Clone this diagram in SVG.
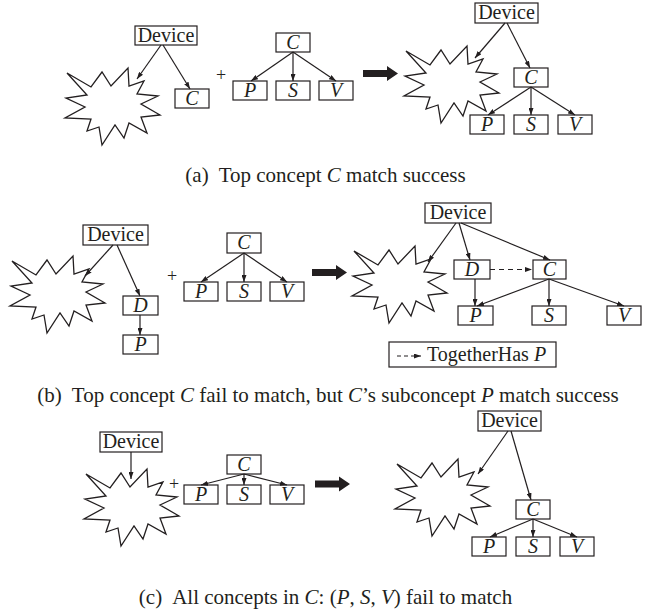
<svg xmlns="http://www.w3.org/2000/svg" width="651" height="616" viewBox="0 0 651 616">
<style>
.b{fill:#fff;stroke:#231f20;stroke-width:1.2}
.t{font-family:"Liberation Serif","DejaVu Serif",serif;font-size:20px;fill:#231f20;text-anchor:middle}
.i{font-style:italic}
.cap{font-size:21px}
.l{stroke:#231f20;stroke-width:1.2;fill:none;marker-end:url(#ah)}
.d{stroke-dasharray:5 4}
.bur{fill:#fff;stroke:#231f20;stroke-width:1.3;stroke-linejoin:miter}
.big{fill:#231f20}
</style>
<defs>
<marker id="ah" viewBox="0 0 7 5" refX="7" refY="2.5" markerWidth="7" markerHeight="5" markerUnits="userSpaceOnUse" orient="auto"><path d="M0,0L7,2.5L0,5z" fill="#231f20"/></marker>
<path id="burst" class="bur" d="M2,6L26,20L37,5L46,19L63,1L64,19L79,14L72,27L93,29L76,37L95,48L76,50L82,66L64,56L59,71L50,58L37,78L34,60L22,64L26,52L0,51L20,40L1,31L22,28Z"/>
<path id="bigarrow" class="big" d="M0,-3.5H24V-7.5L35,0L24,7.5V3.5H0Z"/>
</defs>

<!-- (a) -->
<g id="a-left">
<use href="#burst" x="65" y="67"/>
<g id="a-device1"><rect class="b" x="135" y="26" width="62" height="19"/><text class="t" x="166" y="42">Device</text></g>
<g id="a-c1"><rect class="b" x="175" y="89" width="34" height="19"/><text class="t i" x="192" y="105">C</text></g>
</g>
<text class="t" x="221" y="81" style="font-size:18px">+</text>
<g id="a-mid">
<g id="a-c2"><rect class="b" x="276" y="33" width="34" height="19"/><text class="t i" x="293" y="49">C</text></g>
<g id="a-p2"><rect class="b" x="233" y="81" width="34" height="19"/><text class="t i" x="250" y="97">P</text></g>
<g id="a-s2"><rect class="b" x="276" y="81" width="34" height="19"/><text class="t i" x="293" y="97">S</text></g>
<g id="a-v2"><rect class="b" x="319" y="81" width="34" height="19"/><text class="t i" x="336" y="97">V</text></g>
</g>
<use href="#bigarrow" x="363" y="73.5"/>
<g id="a-right">
<use href="#burst" x="404" y="45"/>
<g id="a-device3"><rect class="b" x="475" y="3" width="63" height="20"/><text class="t" x="506.5" y="19">Device</text></g>
<g id="a-c3"><rect class="b" x="514" y="68" width="34" height="19"/><text class="t i" x="531" y="84">C</text></g>
<g id="a-p3"><rect class="b" x="470" y="115" width="34" height="19"/><text class="t i" x="487" y="131">P</text></g>
<g id="a-s3"><rect class="b" x="514" y="115" width="34" height="19"/><text class="t i" x="531" y="131">S</text></g>
<g id="a-v3"><rect class="b" x="558" y="115" width="34" height="19"/><text class="t i" x="575" y="131">V</text></g>
</g>
<text class="t cap" x="325.5" y="182">(a)<tspan dx="10">Top concept </tspan><tspan class="i">C</tspan> match success</text>

<!-- (b) -->
<g id="b-left">
<use href="#burst" x="10" y="255"/>
<g id="b-device1"><rect class="b" x="83" y="225" width="65" height="20"/><text class="t" x="115.5" y="241">Device</text></g>
<g id="b-d1"><rect class="b" x="123" y="296" width="35" height="19"/><text class="t i" x="140.5" y="312">D</text></g>
<g id="b-p1"><rect class="b" x="123" y="335" width="35" height="19"/><text class="t i" x="140.5" y="351">P</text></g>
</g>
<text class="t" x="172" y="282" style="font-size:18px">+</text>
<g id="b-mid">
<g id="b-c2"><rect class="b" x="227" y="233" width="34" height="20"/><text class="t i" x="244" y="249">C</text></g>
<g id="b-p2"><rect class="b" x="184" y="282" width="34" height="19"/><text class="t i" x="201" y="298">P</text></g>
<g id="b-s2"><rect class="b" x="227" y="282" width="34" height="19"/><text class="t i" x="244" y="298">S</text></g>
<g id="b-v2"><rect class="b" x="270" y="282" width="34" height="19"/><text class="t i" x="287" y="298">V</text></g>
</g>
<use href="#bigarrow" x="312" y="272.5"/>
<g id="b-right">
<use href="#burst" x="352" y="245"/>
<g id="b-device3"><rect class="b" x="425" y="203" width="66" height="20"/><text class="t" x="458" y="219">Device</text></g>
<g id="b-d3"><rect class="b" x="454" y="260" width="36" height="19"/><text class="t i" x="472" y="276">D</text></g>
<g id="b-c3"><rect class="b" x="533" y="260" width="33" height="19"/><text class="t i" x="549.5" y="276">C</text></g>
<g id="b-p3"><rect class="b" x="458" y="306" width="35" height="19"/><text class="t i" x="475.5" y="322">P</text></g>
<g id="b-s3"><rect class="b" x="532" y="306" width="34" height="19"/><text class="t i" x="549" y="322">S</text></g>
<g id="b-v3"><rect class="b" x="607" y="306" width="34" height="19"/><text class="t i" x="624" y="322">V</text></g>
</g>
<g id="b-legend"><rect class="b" x="389" y="342" width="167" height="25"/><line class="l d" x1="397" y1="356" x2="421" y2="356" style="stroke-dasharray:4 3"/><text class="t" x="427" y="361" style="text-anchor:start">TogetherHas <tspan class="i">P</tspan></text></g>
<text class="t cap" x="328" y="402">(b)<tspan dx="10">Top concept </tspan><tspan class="i">C</tspan> fail to match, but <tspan class="i">C</tspan>’s subconcept <tspan class="i">P</tspan> match success</text>

<!-- (c) -->
<g id="c-left">
<use href="#burst" x="84" y="468"/>
<g id="c-device1"><rect class="b" x="100" y="432" width="62" height="20"/><text class="t" x="131" y="448">Device</text></g>
</g>
<text class="t" x="174" y="490" style="font-size:18px">+</text>
<g id="c-mid">
<g id="c-c2"><rect class="b" x="227" y="455" width="34" height="19"/><text class="t i" x="244" y="471">C</text></g>
<g id="c-p2"><rect class="b" x="184" y="485" width="34" height="19"/><text class="t i" x="201" y="501">P</text></g>
<g id="c-s2"><rect class="b" x="227" y="485" width="34" height="19"/><text class="t i" x="244" y="501">S</text></g>
<g id="c-v2"><rect class="b" x="270" y="485" width="34" height="19"/><text class="t i" x="287" y="501">V</text></g>
</g>
<use href="#bigarrow" x="315" y="484"/>
<g id="c-right">
<use href="#burst" x="395" y="458"/>
<g id="c-device3"><rect class="b" x="478" y="411" width="63" height="20"/><text class="t" x="509.5" y="427">Device</text></g>
<g id="c-c3"><rect class="b" x="516" y="500" width="34" height="19"/><text class="t i" x="533" y="516">C</text></g>
<g id="c-p3"><rect class="b" x="472" y="537" width="34" height="19"/><text class="t i" x="489" y="553">P</text></g>
<g id="c-s3"><rect class="b" x="516" y="537" width="34" height="19"/><text class="t i" x="533" y="553">S</text></g>
<g id="c-v3"><rect class="b" x="560" y="537" width="34" height="19"/><text class="t i" x="577" y="553">V</text></g>
</g>
<text class="t cap" x="325.5" y="604">(c)<tspan dx="10">All concepts in </tspan><tspan class="i">C</tspan>: (<tspan class="i">P</tspan>, <tspan class="i">S</tspan>, <tspan class="i">V</tspan>) fail to match</text>

<g id="connectors">
<line class="l" x1="161" y1="45" x2="137" y2="79"/>
<line class="l" x1="163" y1="45" x2="190" y2="89"/>
<line class="l" x1="293" y1="52" x2="251" y2="81"/>
<line class="l" x1="293" y1="52" x2="293" y2="81"/>
<line class="l" x1="293" y1="52" x2="336" y2="81"/>
<line class="l" x1="505" y1="23" x2="475" y2="58"/>
<line class="l" x1="507" y1="23" x2="530" y2="68"/>
<line class="l" x1="531" y1="87" x2="488" y2="115"/>
<line class="l" x1="531" y1="87" x2="531" y2="115"/>
<line class="l" x1="531" y1="87" x2="575" y2="115"/>
<line class="l" x1="113" y1="245" x2="85" y2="276"/>
<line class="l" x1="117" y1="245" x2="140" y2="296"/>
<line class="l" x1="140" y1="315" x2="140" y2="335"/>
<line class="l" x1="244" y1="253" x2="201" y2="282"/>
<line class="l" x1="244" y1="253" x2="244" y2="282"/>
<line class="l" x1="244" y1="253" x2="287" y2="282"/>
<line class="l" x1="456" y1="223" x2="428" y2="262"/>
<line class="l" x1="459" y1="223" x2="470" y2="260"/>
<line class="l" x1="461" y1="223" x2="550" y2="260"/>
<line class="l d" x1="490" y1="269.5" x2="532" y2="269.5"/>
<line class="l" x1="475" y1="279" x2="475" y2="306"/>
<line class="l" x1="549" y1="279" x2="477" y2="306"/>
<line class="l" x1="549" y1="279" x2="549" y2="306"/>
<line class="l" x1="549" y1="279" x2="624" y2="306"/>
<line class="l" x1="131" y1="452" x2="131" y2="479"/>
<line class="l" x1="244" y1="474" x2="201" y2="485"/>
<line class="l" x1="244" y1="474" x2="244" y2="485"/>
<line class="l" x1="244" y1="474" x2="287" y2="485"/>
<line class="l" x1="508" y1="431" x2="478" y2="474"/>
<line class="l" x1="511" y1="431" x2="531" y2="500"/>
<line class="l" x1="533" y1="519" x2="490" y2="537"/>
<line class="l" x1="533" y1="519" x2="533" y2="537"/>
<line class="l" x1="533" y1="519" x2="577" y2="537"/>
</g>
</svg>
